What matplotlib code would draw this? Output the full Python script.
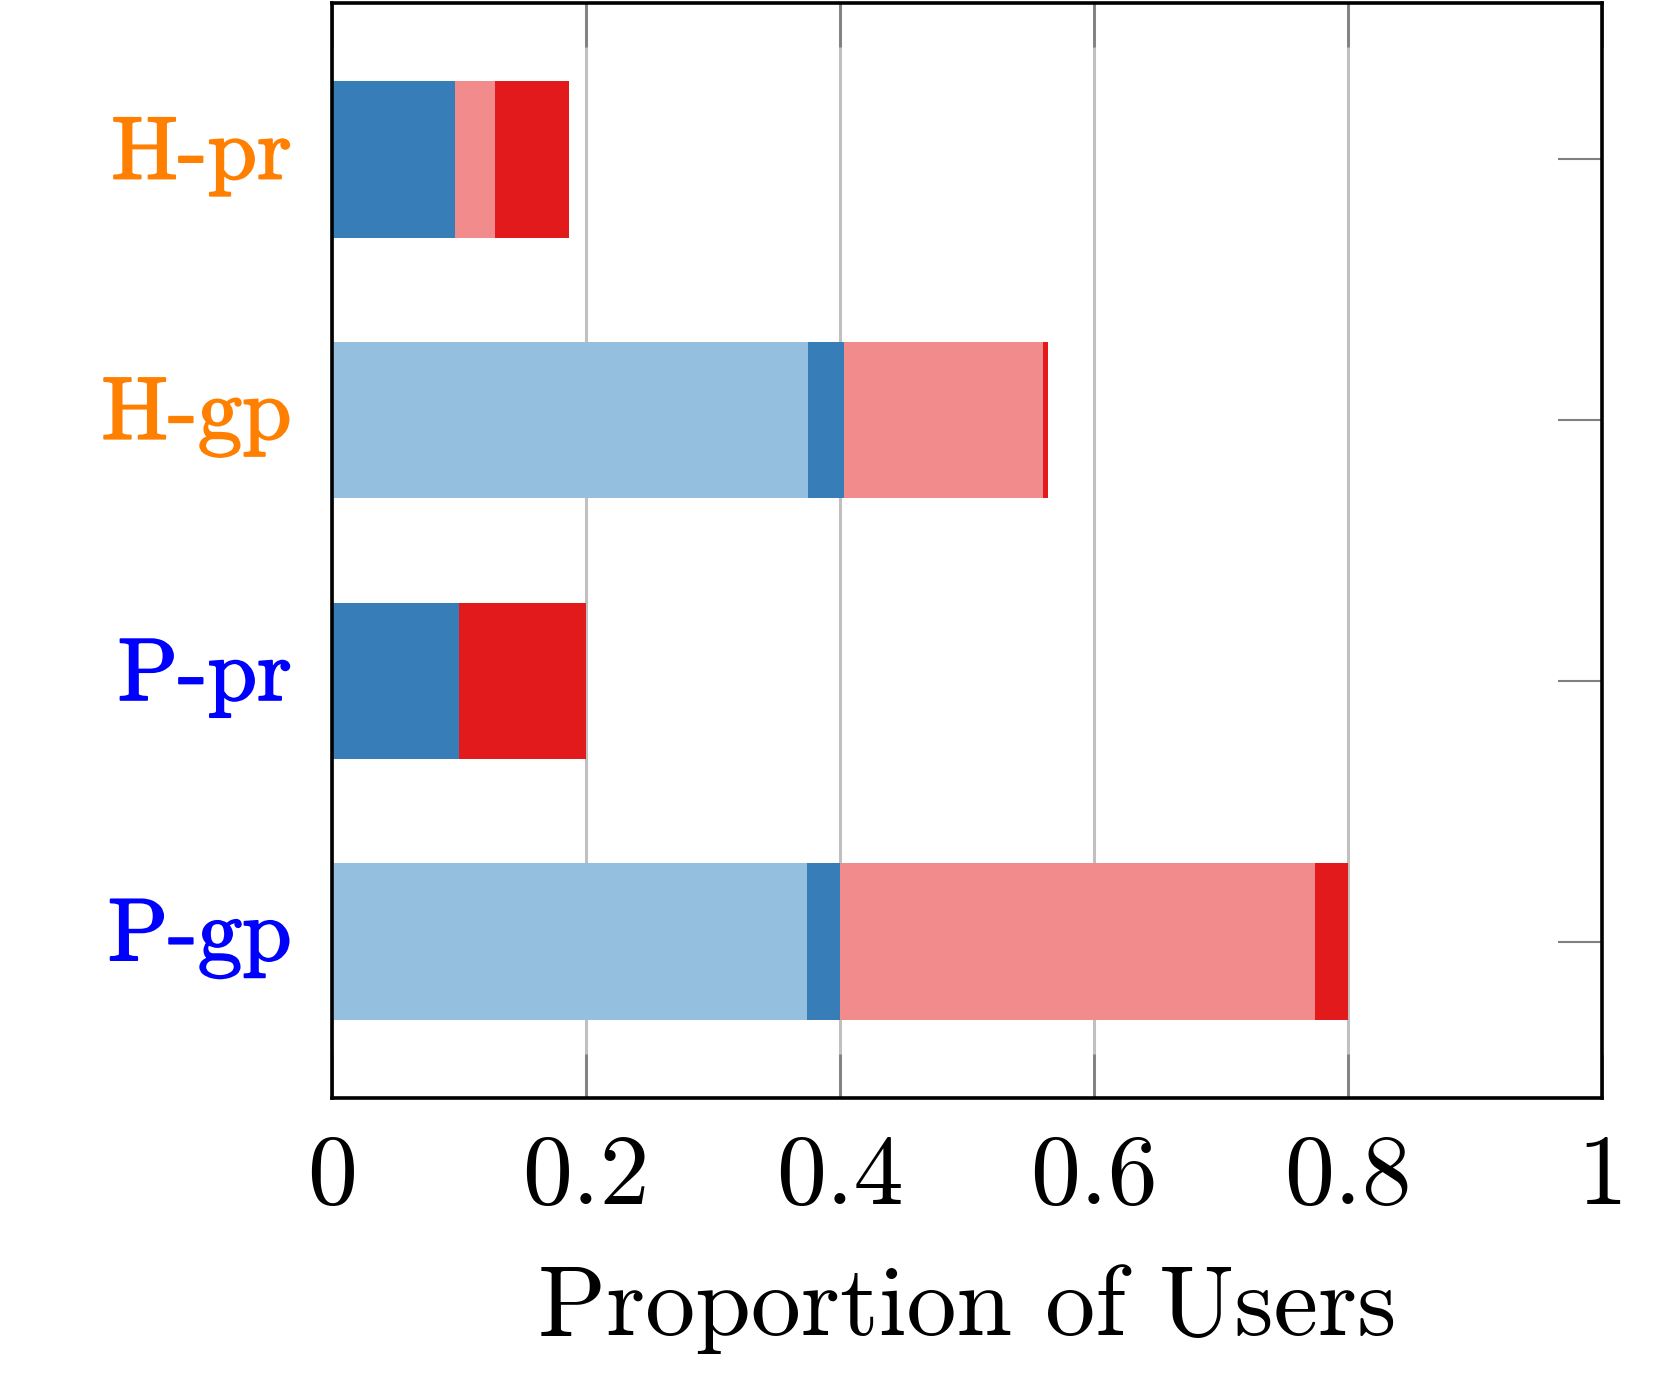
import matplotlib
matplotlib.use('Agg')
import matplotlib.pyplot as plt
from matplotlib import transforms
import matplotlib.patheffects as pe
import numpy as np

plt.rcParams['font.family'] = ['cmr10', 'DejaVu Serif']
plt.rcParams['axes.formatter.use_mathtext'] = True
plt.rcParams['mathtext.fontset'] = 'cm'

# bottom to top
groups = ['P-gp', 'P-pr', 'H-gp', 'H-pr']
group_colors = ['#0000ff', '#0000ff', '#ff7f00', '#ff7f00']

# stacked segments, left to right
strong_a = [0.374, 0.0, 0.375, 0.0]
weak_a = [0.026, 0.100, 0.028, 0.097]
weak_b = [0.374, 0.0, 0.157, 0.031]
strong_b = [0.026, 0.100, 0.004, 0.059]

segments = [strong_a, weak_a, weak_b, strong_b]
seg_colors = ['#95bfdf', '#377eb8', '#f28b8b', '#e31a1c']

x_ticks = [0, 0.2, 0.4, 0.6, 0.8, 1.0]
x_tick_labels = ['0', '0.2', '0.4', '0.6', '0.8', '1']

fig = plt.figure(figsize=(16.64, 13.93), dpi=100)
ax = fig.add_axes([0.1995, 0.2118, 0.9627 - 0.1995, 0.9978 - 0.2118])

y = np.arange(len(groups))
left = np.zeros(len(groups))
for vals, col in zip(segments, seg_colors):
    ax.barh(y, vals, left=left, height=0.6, color=col, edgecolor='none', zorder=2)
    left += np.array(vals)

ax.set_xlim(0, 1)
ax.set_ylim(-0.6, 3.6)
ax.set_axisbelow(True)
ax.grid(axis='x', color='#c0c0c0', linewidth=2.2)

ax.set_xticks(x_ticks)
ax.set_xticklabels(x_tick_labels)
ax.set_yticks(y)
ax.set_yticklabels(groups)

ax.tick_params(axis='x', which='both', direction='in', top=True, bottom=True,
               length=32, width=2, color='#808080', labelsize=72, pad=26)
ax.tick_params(axis='y', which='both', direction='in', left=False, right=True,
               length=32, width=1.5, color='#808080', labelsize=64, pad=29)

# labels sit a little above the bar centres
shift = transforms.ScaledTranslation(0, 12 / 100, fig.dpi_scale_trans)
for lbl, c in zip(ax.get_yticklabels(), group_colors):
    lbl.set_color(c)
    lbl.set_transform(lbl.get_transform() + shift)
    lbl.set_path_effects([pe.withStroke(linewidth=1.3, foreground=c)])

for sp in ax.spines.values():
    sp.set_linewidth(2.6)
    sp.set_color('black')
    sp.set_zorder(5)

ax.set_xlabel('Proportion of Users', fontsize=72, labelpad=30)

fig.savefig('out.png', dpi=100)
